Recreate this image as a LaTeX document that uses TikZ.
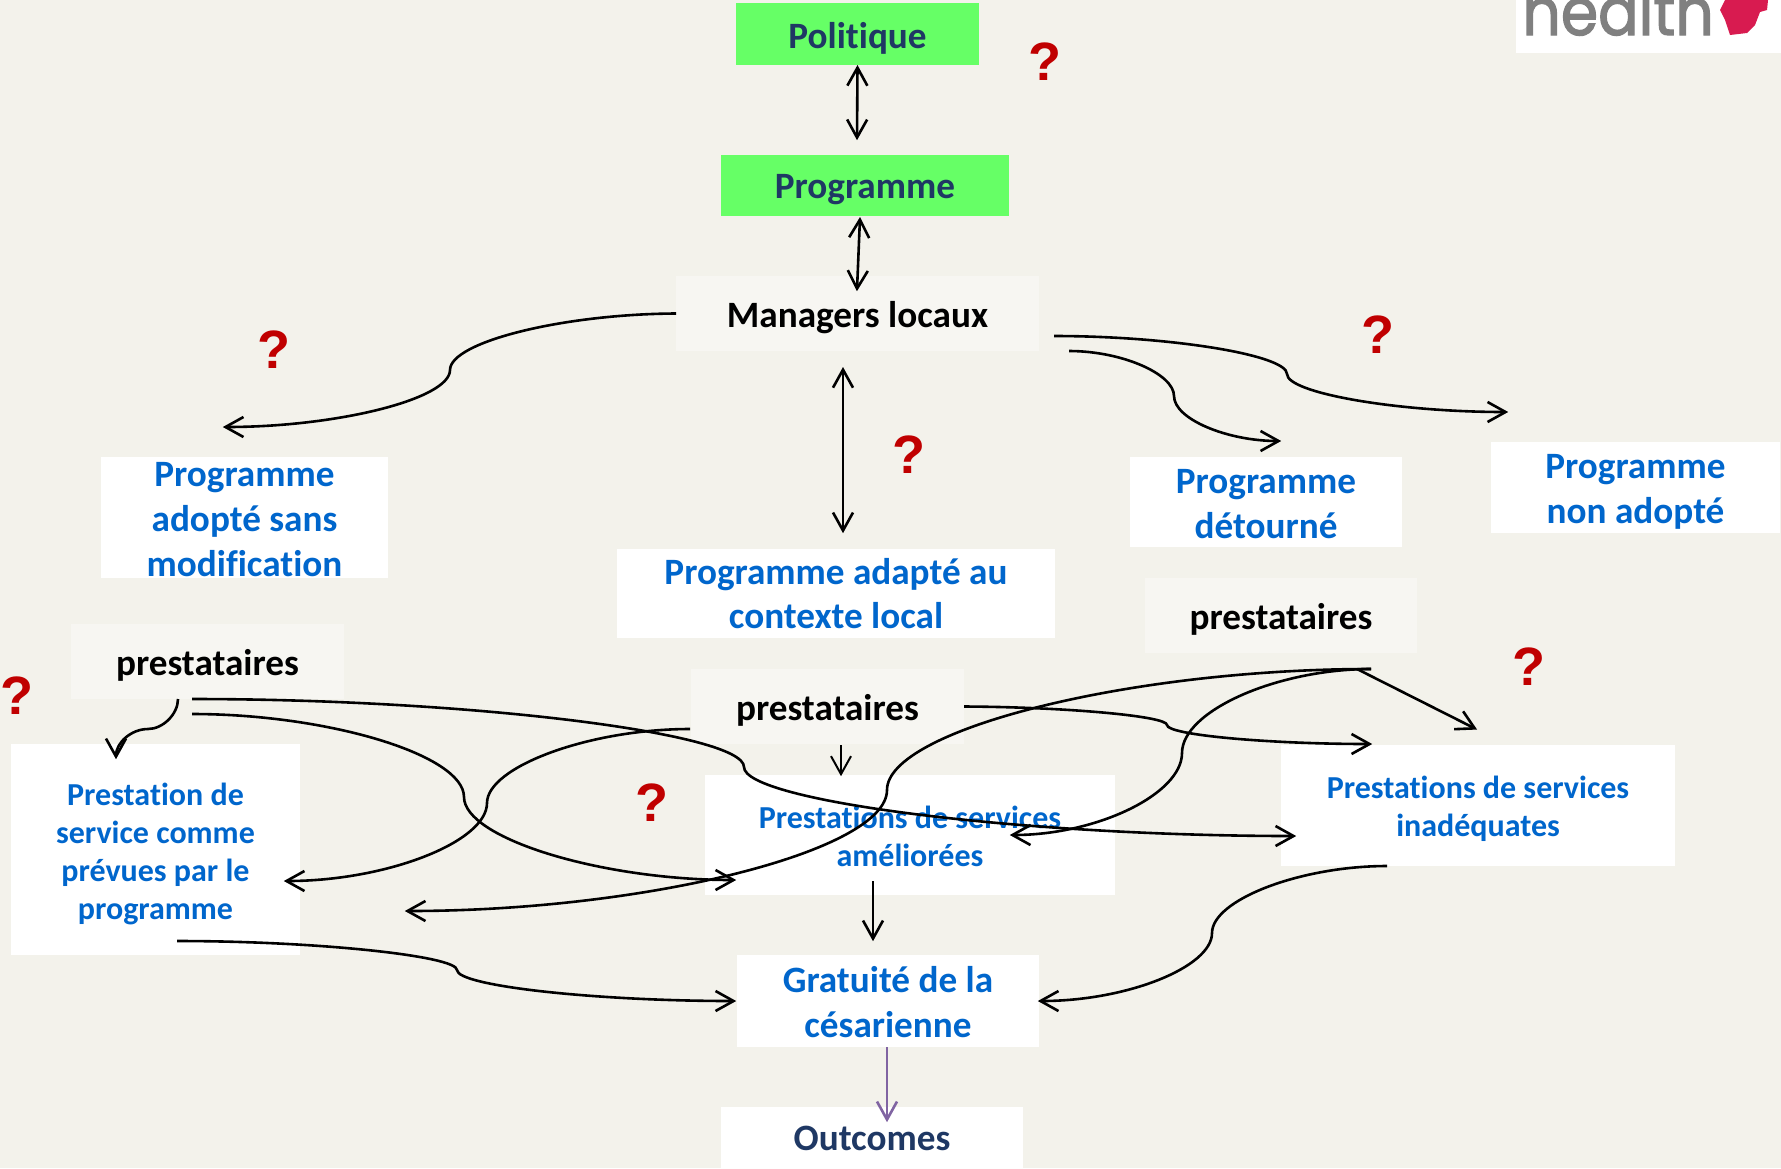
\documentclass[tikz,border=0pt]{standalone}
\usepackage{fontspec}
\setmainfont[Ligatures=NoCommon]{Carlito}
\newfontfamily\qfont{Liberation Sans}
\newfontfamily\logofont[FakeBold=2]{Poppins}
\usetikzlibrary{arrows.meta}
\definecolor{bgc}{HTML}{F3F2EB}
\definecolor{softc}{HTML}{F7F6F2}
\definecolor{greenc}{HTML}{66FF66}
\definecolor{bluec}{HTML}{0066CC}
\definecolor{navyc}{HTML}{1F3864}
\definecolor{redc}{HTML}{C00000}
\definecolor{purplec}{HTML}{8064A2}
\definecolor{pinkc}{HTML}{D81B50}
\definecolor{grayc}{HTML}{808080}
\newcommand{\topfix}[1]{\rule{0pt}{#1}}
\tikzset{
  base box/.style={inner sep=0pt,outer sep=0pt,align=center,anchor=center},
  green box/.style={base box,fill=greenc,text=navyc,font=\fontsize{18.6}{22.4}\selectfont\bfseries},
  soft box/.style={base box,fill=softc,text=black,font=\fontsize{18.6}{22.4}\selectfont\bfseries},
  blue box/.style={base box,fill=white,text=bluec,font=\fontsize{18.6}{22.4}\selectfont\bfseries},
  small blue/.style={base box,fill=white,text=bluec,font=\fontsize{16}{19.1}\selectfont\bfseries},
  query/.style={inner sep=0pt,text=redc,font=\fontsize{27}{27}\qfont\bfseries},
  conn/.style={draw=black,line width=1.3pt,shorten >=-0.6pt,-{Straight Barb[length=9pt,width=10pt]}},
  both/.style={conn,{Straight Barb[length=9pt,width=10pt]}-{Straight Barb[length=9pt,width=10pt]}},
}
\begin{document}
\begin{tikzpicture}[x=0.5pt,y=-0.5pt]
\useasboundingbox (0,0) rectangle (1781,1168);
\fill[bgc] (0,0) rectangle (1781,1168);
% logo
\fill[white] (1516,0) rectangle (1781,53);
\begin{scope}
\clip (1516,0) rectangle (1781,53);
\node[inner sep=0pt,anchor=base west,text=grayc,font=\fontsize{33}{33}\logofont] (logo) at (1522,35) {\scalebox{.91}[1]{health}};
\fill[pinkc] (1720,10) -- (1725,0) -- (1768,0) -- (1767,10) -- (1760,12) -- (1755,25) -- (1747,33) -- (1730,35) -- (1725,20) -- cycle;
\end{scope}
% boxes
\node[green box,minimum width=121.5pt,minimum height=31pt] (pol) at (857.5,34) {\topfix{17pt}Politique};
\node[green box,minimum width=144pt,minimum height=30.5pt] (prog) at (865,185.5) {\topfix{16.5pt}Programme};
\node[soft box,minimum width=181.5pt,minimum height=37.5pt] (mgr) at (857.5,313.5) {\topfix{17pt}Managers locaux};
\node[blue box,minimum width=143.5pt,minimum height=60.5pt] (adopte) at (244.5,517.5) {\topfix{14.3pt}Programme\\adopté sans\\modification};
\node[blue box,minimum width=219pt,minimum height=44.5pt] (adapte) at (836,593.5) {Programme adapté au\\contexte local};
\node[blue box,minimum width=136pt,minimum height=45pt] (detourne) at (1266,502) {\topfix{14.3pt}Programme\\détourné};
\node[blue box,minimum width=144.5pt,minimum height=45.5pt] (nonad) at (1635.5,487.5) {\topfix{16.5pt}Programme\\non adopté};
\node[soft box,minimum width=136pt,minimum height=37.5pt] (presR) at (1281,615.5) {\topfix{16.6pt}prestataires};
\node[soft box,minimum width=136.5pt,minimum height=37.5pt] (presL) at (207.5,661.5) {\topfix{16.6pt}prestataires};
\node[soft box,minimum width=136.5pt,minimum height=37.5pt] (presC) at (827.5,706.5) {\topfix{16.6pt}prestataires};
\node[small blue,minimum width=205pt,minimum height=60pt] (amel) at (910,835) {\topfix{12.3pt}Prestations de services\\améliorées};
\node[small blue,minimum width=197pt,minimum height=60.5pt] (inad) at (1478,805.5) {\topfix{14.2pt}Prestations de services\\inadéquates};
\node[small blue,minimum width=144.5pt,minimum height=105.5pt] (serv) at (155.5,849.5) {\topfix{15.6pt}Prestation de\\service comme\\prévues par le\\programme};
\node[blue box,minimum width=151pt,minimum height=46pt] (grat) at (888,1001) {\topfix{14.2pt}Gratuité de la\\césarienne};
\node[base box,fill=white,text=navyc,font=\fontsize{18.6}{22.4}\selectfont\bfseries,minimum width=151pt,minimum height=30.5pt] (outc) at (872,1137.5) {\topfix{13.2pt}Outcomes};
% question marks
\node[query] (q1) at (1045,62) {?};
\node[query] (q2) at (1378,335) {?};
\node[query] (q3) at (274,350) {?};
\node[query] (q4) at (909,455) {?};
\node[query] (q5) at (1529,667) {?};
\node[query] (q6) at (17,696) {?};
\node[query] (q7) at (652,803) {?};
% connector ends
\coordinate (a1) at (857,139);
\coordinate (a2s) at (860,217);
\coordinate (a2e) at (857,290);
\coordinate (a3s) at (843,367);
\coordinate (a3e) at (843,532);
\coordinate (a4e) at (224,427);
\coordinate (a5s) at (1069,351);
\coordinate (a5e) at (1280,441);
\coordinate (a6s) at (1054,336);
\coordinate (a6e) at (1507,412);
\coordinate (a7s) at (178,699);
\coordinate (a7e) at (116,758);
\coordinate (a8s) at (192,699);
\coordinate (a8e) at (1295,836);
\coordinate (a9s) at (192,714);
\coordinate (a9e) at (735,880);
\coordinate (a10s) at (690,729);
\coordinate (a10e) at (285,881);
\coordinate (a11s) at (841,745);
\coordinate (a11e) at (841,775);
\coordinate (a12e) at (1371,744);
\coordinate (a13s) at (1371,669);
\coordinate (a13e) at (406,911);
\coordinate (a14e) at (1011,835);
\coordinate (a15s) at (1357,669);
\coordinate (a15e) at (1476,729);
\coordinate (a16s) at (873,881);
\coordinate (a16e) at (873,940);
\coordinate (a17s) at (177,941);
\coordinate (a17e) at (735,1001);
\coordinate (a18s) at (1387,866);
\coordinate (a19e) at (887,1121);
% connectors
\draw[both] (pol.south) -- (a1);
\draw[both] (a2s) -- (a2e);
\draw[both] (a3s) -- (a3e);
\draw[conn] (mgr.west) .. controls (563,314) and (450,342) .. (450,370) .. controls (450,399) and (337,427) .. (a4e);
\draw[conn] (a5s) .. controls (1122,351) and (1174,374) .. (1174,396) .. controls (1174,419) and (1227,441) .. (a5e);
\draw[conn] (a6s) .. controls (1170,336) and (1287,355) .. (1287,374) .. controls (1287,393) and (1397,412) .. (a6e);
\draw[conn] (a7s) .. controls (178,714) and (163,729) .. (148,729) .. controls (131,729) and (116,743) .. (a7e);
\draw[conn] (a8s) .. controls (468,699) and (744,733) .. (744,767) .. controls (744,801) and (1020,836) .. (a8e);
\draw[conn] (a9s) .. controls (328,714) and (464,755) .. (464,797) .. controls (464,838) and (600,880) .. (a9e);
\draw[conn] (a10s) .. controls (589,729) and (487,767) .. (487,803) .. controls (487,842) and (386,881) .. (a10e);
\draw[conn,line width=1pt] (a11s) -- (a11e);
\draw[conn] (presC.east) .. controls (1065,707) and (1167,716) .. (1167,725) .. controls (1167,735) and (1269,744) .. (a12e);
\draw[conn] (a13s) .. controls (1129,669) and (887,730) .. (887,790) .. controls (887,851) and (646,911) .. (a13e);
\draw[conn] (a13s) .. controls (1277,669) and (1182,711) .. (1182,753) .. controls (1182,794) and (1097,835) .. (a14e);
\draw[conn] (a15s) -- (a15e);
\draw[conn] (a16s) -- (a16e);
\draw[conn] (a17s) .. controls (317,941) and (457,956) .. (457,970) .. controls (457,986) and (596,1001) .. (a17e);
\draw[conn] (a18s) .. controls (1300,866) and (1212,900) .. (1212,933) .. controls (1212,967) and (1127,1001) .. (grat.east);
\draw[conn,draw=purplec] (grat.south -| a19e) -- (a19e);
\end{tikzpicture}
\end{document}
